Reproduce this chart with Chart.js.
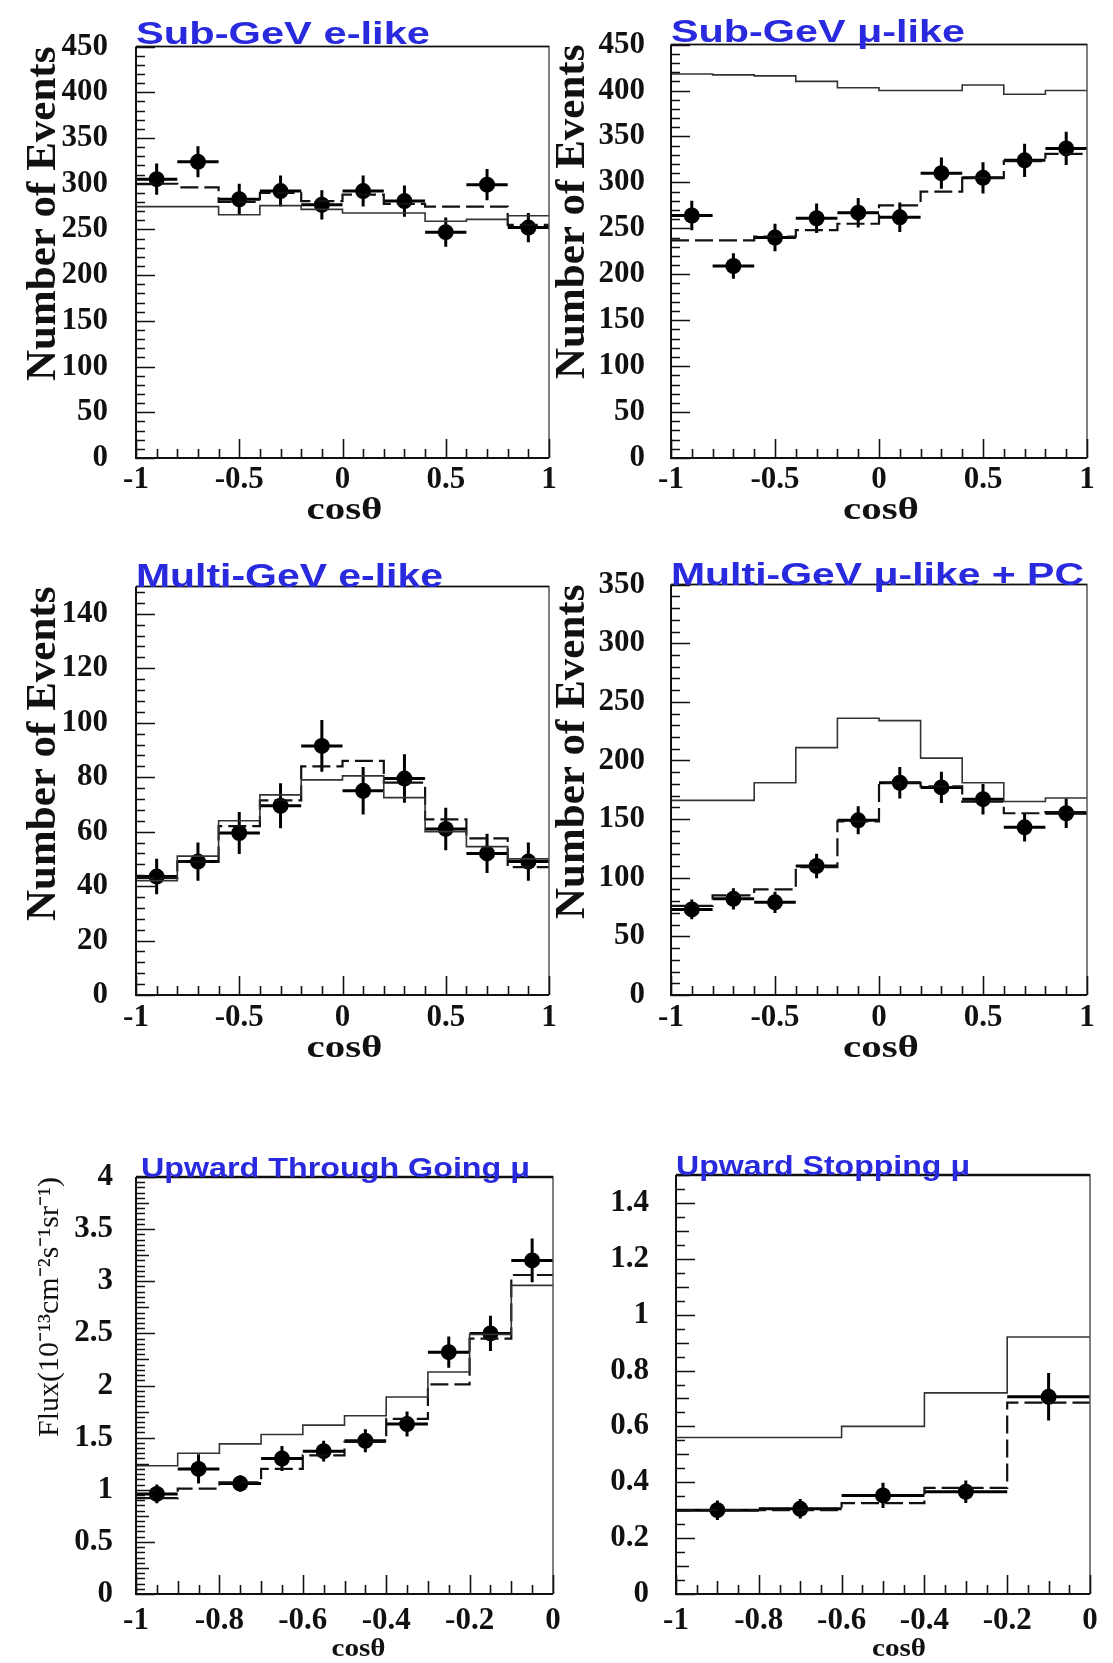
<!DOCTYPE html>
<html lang="en">
<head>
<meta charset="utf-8">
<title>Zenith angle distributions</title>
<script src="https://cdn.jsdelivr.net/npm/chart.js@4.4.1/dist/chart.umd.min.js"></script>
<style>
  html, body { margin: 0; padding: 0; background: #fff; }
  body { position: relative; width: 1113px; height: 1663px; overflow: hidden; }
  canvas { position: absolute; }
</style>
</head>
<body>
<canvas id="subGeVe"></canvas>
<canvas id="subGeVmu"></canvas>
<canvas id="multiGeVe"></canvas>
<canvas id="multiGeVmu"></canvas>
<canvas id="upThru"></canvas>
<canvas id="upStop"></canvas>
<script>
// --- Bins in cos(zenith) ---
const cosEdges = [-1, -0.8, -0.6, -0.4, -0.2, 0, 0.2, 0.4, 0.6, 0.8, 1];
const cosCenters = [-0.9, -0.7, -0.5, -0.3, -0.1, 0.1, 0.3, 0.5, 0.7, 0.9];
const thruEdges = [-1, -0.9, -0.8, -0.7, -0.6, -0.5, -0.4, -0.3, -0.2, -0.1, 0];
const thruCenters = [-0.95, -0.85, -0.75, -0.65, -0.55, -0.45, -0.35, -0.25, -0.15, -0.05];
const stopEdges = [-1, -0.8, -0.6, -0.4, -0.2, 0];
const stopCenters = [-0.9, -0.7, -0.5, -0.3, -0.1];

// --- Tick labels ---
const cosTicks = [-1, -0.5, 0, 0.5, 1];
const upCosTicks = [-1, -0.8, -0.6, -0.4, -0.2, 0];
const subGeVTicks = [0, 50, 100, 150, 200, 250, 300, 350, 400, 450];
const multiGeVeTicks = [0, 20, 40, 60, 80, 100, 120, 140];
const multiGeVmuTicks = [0, 50, 100, 150, 200, 250, 300, 350];
const thruTicks = [0, 0.5, 1, 1.5, 2, 2.5, 3, 3.5, 4];
const stopTicks = [0, 0.2, 0.4, 0.6, 0.8, 1, 1.2, 1.4];

// --- Sub-GeV e-like ---
const subGeVeData = [305, 324, 283, 292, 277, 292, 281, 247, 299, 252];
const subGeVeErr = [17, 17, 17, 17, 16, 17, 17, 16, 17, 16];
const subGeVeNoOsc = [275, 275, 266, 276, 272, 268, 268, 259, 261, 265];
const subGeVeOsc = [300, 296, 280, 290, 281, 288, 278, 275, 275, 255];

// --- Sub-GeV mu-like ---
const subGeVmuData = [264, 209, 240, 261, 267, 262, 310, 305, 324, 337];
const subGeVmuErr = [16, 14, 15, 16, 16, 16, 17, 17, 18, 18];
const subGeVmuNoOsc = [418, 417, 416, 410, 403, 400, 400, 406, 396, 400];
const subGeVmuOsc = [237, 237, 241, 248, 255, 275, 290, 305, 323, 331];

// --- Multi-GeV e-like ---
const multiGeVeData = [43.5, 49, 59.5, 69.5, 91.5, 75, 79.5, 61, 52, 49];
const multiGeVeErr = [6.5, 7, 7.7, 8.3, 9.5, 8.7, 8.9, 7.8, 7.2, 7];
const multiGeVeNoOsc = [42, 51, 64, 73.5, 79, 80.5, 72.5, 60, 54.5, 50];
const multiGeVeOsc = [43, 49, 62, 71.5, 84, 86, 78, 64.5, 57.5, 47];

// --- Multi-GeV mu-like + PC ---
const multiGeVmuData = [73, 82, 79, 110, 149, 181, 177, 167, 143, 155];
const multiGeVmuErr = [8.5, 9, 9, 10.5, 12, 13.5, 13.3, 13, 12, 12.5];
const multiGeVmuNoOsc = [166, 166, 181, 211, 236, 234, 202, 181, 165, 168];
const multiGeVmuOsc = [76, 85, 90, 109, 148, 181, 178, 165, 155, 156];

// --- Upward through-going mu (flux) ---
const thruData = [0.96, 1.20, 1.06, 1.30, 1.37, 1.47, 1.63, 2.32, 2.50, 3.20];
const thruErr = [0.09, 0.14, 0.08, 0.12, 0.10, 0.11, 0.12, 0.15, 0.17, 0.21];
const thruNoOsc = [1.23, 1.35, 1.44, 1.53, 1.62, 1.71, 1.89, 2.13, 2.49, 2.96];
const thruOsc = [0.92, 1.01, 1.07, 1.20, 1.33, 1.46, 1.68, 2.01, 2.45, 3.06];

// --- Upward stopping mu (flux) ---
const stopData = [0.30, 0.305, 0.353, 0.366, 0.706];
const stopErr = [0.035, 0.035, 0.045, 0.04, 0.085];
const stopNoOsc = [0.56, 0.56, 0.60, 0.72, 0.92];
const stopOsc = [0.30, 0.30, 0.325, 0.38, 0.685];

const serif = '"Liberation Serif", "Times New Roman", serif';
const sans = '"Liberation Sans", Arial, sans-serif';

// histogram: one point per bin edge, last value repeated so the step reaches the right edge
function steps(edges, vals) {
    return edges.map((e, i) => ({ x: e, y: vals[Math.min(i, vals.length - 1)] }));
}

function isMult(v, m) {
    return m > 0 && Math.abs(v / m - Math.round(v / m)) < 1e-6;
}

function eachTick(min, max, step, fn) {
    const n = Math.floor((max - min) / step + 1e-6);
    for (let i = 0; i <= n; i++) fn(min + i * step);
}

// --- Error bars (bin width horizontally, +-err vertically) ---
const errorBars = {
    id: 'errorBars',
    beforeDatasetsDraw(chart, args, o) {
        const { ctx, scales: { x, y } } = chart;
        ctx.save();
        ctx.strokeStyle = '#000';
        ctx.lineWidth = 3;
        o.centers.forEach((c, i) => {
            const v = o.values[i], e = o.errors[i];
            const px = x.getPixelForValue(c), py = y.getPixelForValue(v);
            ctx.beginPath();
            ctx.moveTo(x.getPixelForValue(o.edges[i]), py);
            ctx.lineTo(x.getPixelForValue(o.edges[i + 1]), py);
            ctx.moveTo(px, y.getPixelForValue(v - e));
            ctx.lineTo(px, y.getPixelForValue(v + e));
            ctx.stroke();
        });
        ctx.restore();
    }
};

// --- Frame with inward ticks, like the original histograms ---
const rootFrame = {
    id: 'rootFrame',
    afterDatasetsDraw(chart, args, o) {
        const { ctx, chartArea: a, scales: { x, y } } = chart;
        ctx.save();
        ctx.strokeStyle = '#555';
        ctx.lineWidth = 1.5;
        ctx.beginPath();
        ctx.moveTo(a.left, a.top); ctx.lineTo(a.right, a.top); ctx.lineTo(a.right, a.bottom);
        ctx.stroke();
        ctx.strokeStyle = '#111';
        ctx.lineWidth = o.topLine;
        ctx.beginPath();
        ctx.moveTo(a.left, a.top); ctx.lineTo(a.right, a.top);
        ctx.stroke();
        ctx.lineWidth = 2;
        ctx.beginPath();
        ctx.moveTo(a.left, a.top); ctx.lineTo(a.left, a.bottom); ctx.lineTo(a.right, a.bottom);
        ctx.stroke();

        ctx.lineWidth = 1.6;
        ctx.beginPath();
        eachTick(y.min, y.max, o.yMinor, v => {
            const len = isMult(v, o.yMajor) ? 19 : isMult(v, o.yMid) ? 13 : 9;
            const py = Math.round(y.getPixelForValue(v)) + 0.5;
            ctx.moveTo(a.left, py); ctx.lineTo(a.left + len, py);
        });
        eachTick(x.min, x.max, o.xMinor, v => {
            const len = isMult(v, o.xMajor) ? 19 : isMult(v, o.xMid) ? 13 : 9;
            const px = Math.round(x.getPixelForValue(v)) + 0.5;
            ctx.moveTo(px, a.bottom); ctx.lineTo(px, a.bottom - len);
        });
        ctx.stroke();
        ctx.restore();
    }
};

function drawStretched(ctx, text, font, color, x, y, width, align) {
    ctx.save();
    ctx.font = font;
    ctx.fillStyle = color;
    ctx.textBaseline = 'alphabetic';
    ctx.textAlign = align;
    const w = ctx.measureText(text).width;
    ctx.translate(x, y);
    ctx.scale(width / w, 1);
    ctx.fillText(text, 0, 0);
    ctx.restore();
}

// --- Blue panel title and the cos(theta) axis label ---
const panelText = {
    id: 'panelText',
    afterDraw(chart, args, o) {
        const { ctx, chartArea: a } = chart;
        drawStretched(ctx, o.title, `bold ${o.titleSize}px ${sans}`, '#2929dd',
            a.left + o.titleDx, a.top + o.titleDy, o.titleWidth, 'left');
        drawStretched(ctx, 'cosθ', `bold ${o.xSize}px ${serif}`, '#111',
            (a.left + a.right) / 2 + o.xDx, a.bottom + o.xDy, o.xWidth, 'center');
    }
};

const panels = [
    { id: 'subGeVe', canvas: { left: 0, top: 0, w: 580, h: 540 }, frame: { left: 136, top: 39, right: 549, bottom: 458 },
      edges: cosEdges, centers: cosCenters, values: subGeVeData, errors: subGeVeErr, noOsc: subGeVeNoOsc, osc: subGeVeOsc,
      xTicks: cosTicks, yTicks: subGeVTicks, yMax: 450,
      ticks: { xMinor: 0.1, xMid: 0, xMajor: 0.5, yMinor: 10, yMid: 0, yMajor: 50, topLine: 1.5 },
      text: { title: 'Sub-GeV e-like', titleSize: 32, titleWidth: 294, titleDx: 0, titleDy: -3, xSize: 32, xWidth: 76, xDx: 2, xDy: 61 },
      yTitle: { text: 'Number of Events', size: 43, weight: 'bold', pad: 22 }, xPad: 3, yPad: 28 },
    { id: 'subGeVmu', canvas: { left: 540, top: 0, w: 573, h: 540 }, frame: { left: 671, top: 39, right: 1087, bottom: 458 },
      edges: cosEdges, centers: cosCenters, values: subGeVmuData, errors: subGeVmuErr, noOsc: subGeVmuNoOsc, osc: subGeVmuOsc,
      xTicks: cosTicks, yTicks: subGeVTicks, yMax: 450,
      ticks: { xMinor: 0.1, xMid: 0, xMajor: 0.5, yMinor: 10, yMid: 0, yMajor: 50, topLine: 1.5 },
      text: { title: 'Sub-GeV μ-like', titleSize: 32, titleWidth: 294, titleDx: 0, titleDy: -3, xSize: 32, xWidth: 76, xDx: 2, xDy: 61 },
      yTitle: { text: 'Number of Events', size: 43, weight: 'bold', pad: 11 }, xPad: 3, yPad: 26 },
    { id: 'multiGeVe', canvas: { left: 0, top: 540, w: 580, h: 540 }, frame: { left: 136, top: 576, right: 549, bottom: 995 },
      edges: cosEdges, centers: cosCenters, values: multiGeVeData, errors: multiGeVeErr, noOsc: multiGeVeNoOsc, osc: multiGeVeOsc,
      xTicks: cosTicks, yTicks: multiGeVeTicks, yMax: 150,
      ticks: { xMinor: 0.1, xMid: 0, xMajor: 0.5, yMinor: 4, yMid: 0, yMajor: 20, topLine: 1.5 },
      text: { title: 'Multi-GeV e-like', titleSize: 33, titleWidth: 307, titleDx: 0, titleDy: 0, xSize: 32, xWidth: 76, xDx: 2, xDy: 62 },
      yTitle: { text: 'Number of Events', size: 43, weight: 'bold', pad: 22 }, xPad: 4, yPad: 28 },
    { id: 'multiGeVmu', canvas: { left: 540, top: 540, w: 573, h: 540 }, frame: { left: 671, top: 576, right: 1087, bottom: 995 },
      edges: cosEdges, centers: cosCenters, values: multiGeVmuData, errors: multiGeVmuErr, noOsc: multiGeVmuNoOsc, osc: multiGeVmuOsc,
      xTicks: cosTicks, yTicks: multiGeVmuTicks, yMax: 350,
      ticks: { xMinor: 0.1, xMid: 0, xMajor: 0.5, yMinor: 10, yMid: 0, yMajor: 50, topLine: 1.5 },
      text: { title: 'Multi-GeV μ-like + PC', titleSize: 32, titleWidth: 413, titleDx: 0, titleDy: 0, xSize: 32, xWidth: 76, xDx: 2, xDy: 62 },
      yTitle: { text: 'Number of Events', size: 43, weight: 'bold', pad: 11 }, xPad: 4, yPad: 26 },
    { id: 'upThru', canvas: { left: 0, top: 1080, w: 580, h: 583 }, frame: { left: 136, top: 1177, right: 553, bottom: 1594 },
      edges: thruEdges, centers: thruCenters, values: thruData, errors: thruErr, noOsc: thruNoOsc, osc: thruOsc,
      xTicks: upCosTicks, yTicks: thruTicks, yMax: 4,
      ticks: { xMinor: 0.05, xMid: 0.1, xMajor: 0.2, yMinor: 0.05, yMid: 0.25, yMajor: 0.5, topLine: 2.5 },
      text: { title: 'Upward Through Going μ', titleSize: 27, titleWidth: 389, titleDx: 5, titleDy: 0, xSize: 26, xWidth: 54, xDx: 14, xDy: 62 },
      yTitle: { text: 'Flux(10⁻¹³cm⁻²s⁻¹sr⁻¹)', size: 30, weight: 'normal', pad: 35 }, xPad: 8, yPad: 23 },
    { id: 'upStop', canvas: { left: 540, top: 1080, w: 573, h: 583 }, frame: { left: 676, top: 1175, right: 1090, bottom: 1594 },
      edges: stopEdges, centers: stopCenters, values: stopData, errors: stopErr, noOsc: stopNoOsc, osc: stopOsc,
      xTicks: upCosTicks, yTicks: stopTicks, yMax: 1.5,
      ticks: { xMinor: 0.05, xMid: 0.1, xMajor: 0.2, yMinor: 0.05, yMid: 0.1, yMajor: 0.2, topLine: 2.5 },
      text: { title: 'Upward Stopping μ', titleSize: 27, titleWidth: 294, titleDx: 0, titleDy: 0, xSize: 26, xWidth: 54, xDx: 16, xDy: 62 },
      yTitle: null, xPad: 8, yPad: 27 }
];

function makePanel(p) {
    const el = document.getElementById(p.id);
    const c = p.canvas, f = p.frame;
    el.width = c.w;
    el.height = c.h;
    el.style.left = c.left + 'px';
    el.style.top = c.top + 'px';
    const tickFont = { family: serif, size: 31, weight: 'bold' };

    return new Chart(el.getContext('2d'), {
        type: 'scatter',
        data: {
            datasets: [
                { data: steps(p.edges, p.noOsc), showLine: true, stepped: true, borderColor: '#333', borderWidth: 1.6, pointRadius: 0 },
                { data: steps(p.edges, p.osc), showLine: true, stepped: true, borderColor: '#111', borderWidth: 2.2, borderDash: [18, 6], pointRadius: 0 },
                { data: p.centers.map((x, i) => ({ x, y: p.values[i] })), pointRadius: 8, pointBackgroundColor: '#000', pointBorderColor: '#000', pointBorderWidth: 0 }
            ]
        },
        options: {
            responsive: false,
            animation: false,
            events: [],
            layout: { padding: { left: 0, top: f.top - c.top, right: c.left + c.w - f.right, bottom: 0 } },
            plugins: {
                legend: { display: false },
                tooltip: { enabled: false },
                errorBars: { edges: p.edges, centers: p.centers, values: p.values, errors: p.errors },
                rootFrame: p.ticks,
                panelText: p.text
            },
            scales: {
                x: {
                    type: 'linear',
                    min: p.xTicks[0],
                    max: p.xTicks[p.xTicks.length - 1],
                    grid: { display: false, drawTicks: false },
                    border: { display: false },
                    afterBuildTicks: s => { s.ticks = p.xTicks.map(value => ({ value })); },
                    afterFit: s => { s.height = c.top + c.h - f.bottom; },
                    ticks: { autoSkip: false, maxRotation: 0, minRotation: 0, padding: p.xPad, color: '#111', font: tickFont, callback: v => String(v) }
                },
                y: {
                    type: 'linear',
                    min: 0,
                    max: p.yMax,
                    grid: { display: false, drawTicks: false },
                    border: { display: false },
                    afterBuildTicks: s => { s.ticks = p.yTicks.map(value => ({ value })); },
                    afterFit: s => { s.width = f.left - c.left; },
                    ticks: { autoSkip: false, padding: p.yPad, color: '#111', font: tickFont, callback: v => String(v) },
                    title: p.yTitle ? {
                        display: true,
                        text: p.yTitle.text,
                        align: 'end',
                        color: '#111',
                        font: { family: serif, size: p.yTitle.size, weight: p.yTitle.weight, lineHeight: 1 },
                        padding: { top: p.yTitle.pad, bottom: 0 }
                    } : { display: false }
                }
            }
        },
        plugins: [errorBars, rootFrame, panelText]
    });
}

panels.forEach(makePanel);
</script>
</body>
</html>
